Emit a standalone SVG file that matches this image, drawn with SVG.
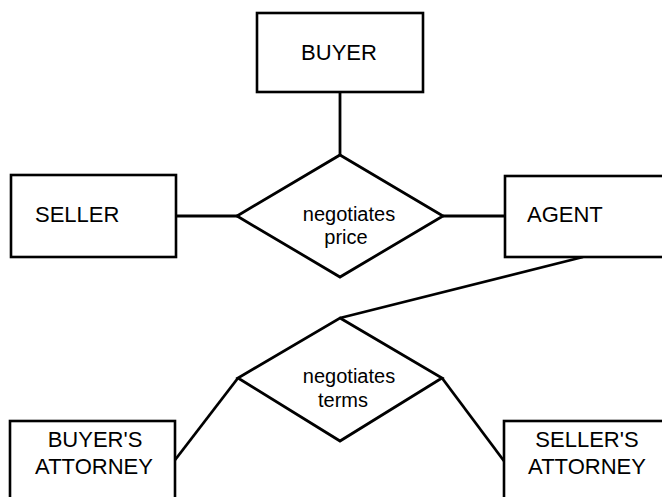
<svg xmlns="http://www.w3.org/2000/svg" width="662" height="497" viewBox="0 0 662 497">
<style>
.box{fill:#fff;stroke:#000;stroke-width:2.6}
.rel{fill:#fff;stroke:#000;stroke-width:2.8;stroke-linejoin:miter}
.ln{fill:none;stroke:#000;stroke-width:2.8}
.et{font-family:"Liberation Sans",Arial,sans-serif;font-size:22px;fill:#000}
.rt{font-family:"Liberation Sans",Arial,sans-serif;font-size:20px;fill:#000;text-anchor:middle}
.c{text-anchor:middle}
</style>
<rect width="662" height="497" fill="#fff"/>
<g id="connectors">
<line class="ln" x1="340" y1="92" x2="340" y2="155"/>
<line class="ln" x1="176" y1="216" x2="238" y2="216"/>
<line class="ln" x1="443" y1="216" x2="505" y2="216"/>
<line class="ln" x1="583" y1="257" x2="340" y2="318"/>
<line class="ln" x1="238" y1="378" x2="175" y2="460"/>
<line class="ln" x1="442" y1="378" x2="504" y2="461"/>
</g>
<g id="buyer">
<rect class="box" x="257" y="13" width="166" height="79"/>
<text class="et c" x="339" y="60">BUYER</text>
</g>
<g id="seller">
<rect class="box" x="11" y="175" width="165" height="82"/>
<text class="et" x="35" y="222">SELLER</text>
</g>
<g id="agent">
<rect class="box" x="505" y="176" width="165" height="81"/>
<text class="et" x="527" y="222">AGENT</text>
</g>
<g id="negotiates-price">
<polygon class="rel" points="340,155 443,216 340,277 237,216"/>
<text class="rt" x="349" y="221">negotiates</text>
<text class="rt" x="346" y="244">price</text>
</g>
<g id="negotiates-terms">
<polygon class="rel" points="340,318 442,378 340,441 238,378"/>
<text class="rt" x="349" y="383">negotiates</text>
<text class="rt" x="343" y="407">terms</text>
</g>
<g id="buyers-attorney">
<rect class="box" x="10" y="421" width="165" height="82"/>
<text class="et c" x="95" y="447">BUYER'S</text>
<text class="et c" x="94" y="474">ATTORNEY</text>
</g>
<g id="sellers-attorney">
<rect class="box" x="504" y="421" width="166" height="82"/>
<text class="et c" x="587" y="447">SELLER'S</text>
<text class="et c" x="587" y="474">ATTORNEY</text>
</g>
</svg>
